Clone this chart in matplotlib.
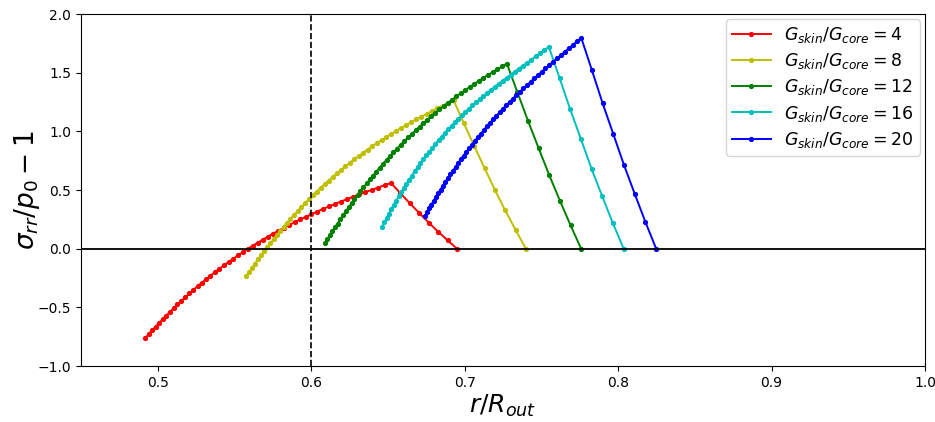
import matplotlib
matplotlib.use("Agg")
import matplotlib.pyplot as plt

# Radial stress in the core (dense mesh) and in the skin (coarse mesh)
# for several skin/core stiffness ratios.
ratios = [4, 8, 12, 16, 20]
colors = ["r", "y", "g", "c", "b"]

core_x_4 = [0.4920, 0.4942, 0.4964, 0.4986, 0.5009, 0.5032, 0.5056, 0.5080, 0.5104, 0.5129,
            0.5155, 0.5180, 0.5207, 0.5233, 0.5260, 0.5288, 0.5316, 0.5344, 0.5373, 0.5402,
            0.5432, 0.5462, 0.5493, 0.5524, 0.5555, 0.5587, 0.5619, 0.5652, 0.5685, 0.5718,
            0.5752, 0.5786, 0.5821, 0.5856, 0.5892, 0.5928, 0.5964, 0.6001, 0.6039, 0.6076,
            0.6115, 0.6153, 0.6192, 0.6232, 0.6272, 0.6312, 0.6353, 0.6394, 0.6436, 0.6478,
            0.6520]
core_y_4 = [-0.7600, -0.7283, -0.6966, -0.6649, -0.6332, -0.6015, -0.5699, -0.5384, -0.5068, -0.4753,
            -0.4437, -0.4129, -0.3820, -0.3512, -0.3203, -0.2895, -0.2599, -0.2303, -0.2006, -0.1710,
            -0.1414, -0.1134, -0.0855, -0.0575, -0.0295, -0.0015, 0.0246, 0.0506, 0.0767, 0.1027,
            0.1288, 0.1528, 0.1769, 0.2009, 0.2250, 0.2490, 0.2711, 0.2932, 0.3153, 0.3374,
            0.3595, 0.3800, 0.4006, 0.4211, 0.4417, 0.4622, 0.4818, 0.5013, 0.5209, 0.5404,
            0.5600]
skin_x_4 = [0.6520, 0.6581, 0.6643, 0.6704, 0.6766, 0.6827, 0.6889, 0.6950]
skin_y_4 = [0.5600, 0.4733, 0.3866, 0.3042, 0.2218, 0.1450, 0.0711, 0.0000]

core_x_8 = [0.5578, 0.5596, 0.5615, 0.5634, 0.5653, 0.5673, 0.5692, 0.5713, 0.5734, 0.5755,
            0.5776, 0.5798, 0.5820, 0.5842, 0.5865, 0.5889, 0.5912, 0.5936, 0.5960, 0.5985,
            0.6010, 0.6035, 0.6061, 0.6087, 0.6114, 0.6141, 0.6168, 0.6195, 0.6223, 0.6251,
            0.6280, 0.6309, 0.6338, 0.6368, 0.6398, 0.6429, 0.6459, 0.6490, 0.6522, 0.6554,
            0.6586, 0.6619, 0.6652, 0.6685, 0.6718, 0.6753, 0.6787, 0.6822, 0.6857, 0.6892,
            0.6928]
core_y_8 = [-0.2310, -0.1962, -0.1615, -0.1267, -0.0920, -0.0572, -0.0224, 0.0125, 0.0473, 0.0822,
            0.1170, 0.1513, 0.1855, 0.2198, 0.2540, 0.2883, 0.3215, 0.3547, 0.3879, 0.4211,
            0.4543, 0.4859, 0.5176, 0.5492, 0.5809, 0.6125, 0.6423, 0.6721, 0.7018, 0.7316,
            0.7614, 0.7892, 0.8170, 0.8447, 0.8725, 0.9003, 0.9261, 0.9519, 0.9777, 1.0035,
            1.0293, 1.0534, 1.0775, 1.1017, 1.1258, 1.1499, 1.1729, 1.1959, 1.2190, 1.2420,
            1.2650]
skin_x_8 = [0.6928, 0.6995, 0.7063, 0.7130, 0.7197, 0.7264, 0.7332, 0.7399]
skin_y_8 = [1.2650, 1.0692, 0.8734, 0.6871, 0.5009, 0.3275, 0.1605, 0.0000]

core_x_12 = [0.6089, 0.6105, 0.6121, 0.6138, 0.6155, 0.6172, 0.6190, 0.6207, 0.6226, 0.6244,
             0.6263, 0.6282, 0.6302, 0.6321, 0.6341, 0.6362, 0.6383, 0.6404, 0.6425, 0.6447,
             0.6469, 0.6491, 0.6513, 0.6536, 0.6560, 0.6583, 0.6607, 0.6631, 0.6656, 0.6681,
             0.6706, 0.6731, 0.6757, 0.6783, 0.6809, 0.6836, 0.6863, 0.6891, 0.6918, 0.6946,
             0.6975, 0.7003, 0.7032, 0.7061, 0.7091, 0.7121, 0.7151, 0.7182, 0.7212, 0.7244,
             0.7275]
core_y_12 = [0.0450, 0.0789, 0.1128, 0.1467, 0.1806, 0.2145, 0.2488, 0.2831, 0.3174, 0.3517,
             0.3860, 0.4201, 0.4543, 0.4884, 0.5226, 0.5567, 0.5902, 0.6236, 0.6571, 0.6905,
             0.7240, 0.7564, 0.7887, 0.8211, 0.8534, 0.8858, 0.9167, 0.9476, 0.9786, 1.0095,
             1.0404, 1.0697, 1.0990, 1.1282, 1.1575, 1.1868, 1.2143, 1.2419, 1.2694, 1.2970,
             1.3245, 1.3505, 1.3765, 1.4024, 1.4284, 1.4544, 1.4791, 1.5038, 1.5286, 1.5533,
             1.5780]
skin_x_12 = [0.7275, 0.7344, 0.7413, 0.7482, 0.7552, 0.7621, 0.7690, 0.7759]
skin_y_12 = [1.5780, 1.3337, 1.0895, 0.8572, 0.6249, 0.4085, 0.2002, 0.0000]

core_x_16 = [0.6462, 0.6477, 0.6492, 0.6507, 0.6522, 0.6538, 0.6554, 0.6571, 0.6587, 0.6604,
             0.6621, 0.6639, 0.6657, 0.6675, 0.6693, 0.6712, 0.6731, 0.6750, 0.6770, 0.6790,
             0.6810, 0.6830, 0.6851, 0.6872, 0.6893, 0.6915, 0.6937, 0.6959, 0.6981, 0.7004,
             0.7027, 0.7051, 0.7074, 0.7098, 0.7122, 0.7147, 0.7172, 0.7197, 0.7222, 0.7248,
             0.7274, 0.7300, 0.7326, 0.7353, 0.7380, 0.7408, 0.7435, 0.7463, 0.7492, 0.7520,
             0.7549]
core_y_16 = [0.1880, 0.2248, 0.2617, 0.2985, 0.3354, 0.3722, 0.4084, 0.4447, 0.4809, 0.5172,
             0.5534, 0.5883, 0.6233, 0.6582, 0.6932, 0.7281, 0.7613, 0.7944, 0.8276, 0.8607,
             0.8939, 0.9250, 0.9560, 0.9871, 1.0181, 1.0492, 1.0781, 1.1070, 1.1360, 1.1649,
             1.1938, 1.2208, 1.2478, 1.2748, 1.3018, 1.3288, 1.3545, 1.3803, 1.4060, 1.4318,
             1.4575, 1.4831, 1.5086, 1.5342, 1.5597, 1.5853, 1.6122, 1.6391, 1.6661, 1.6930,
             1.7200]
skin_x_16 = [0.7549, 0.7619, 0.7688, 0.7758, 0.7827, 0.7897, 0.7966, 0.8036]
skin_y_16 = [1.7200, 1.4537, 1.1875, 0.9343, 0.6811, 0.4453, 0.2183, 0.0000]

core_x_20 = [0.6741, 0.6755, 0.6769, 0.6783, 0.6798, 0.6812, 0.6827, 0.6843, 0.6858, 0.6874,
             0.6890, 0.6907, 0.6924, 0.6941, 0.6958, 0.6975, 0.6993, 0.7011, 0.7030, 0.7048,
             0.7067, 0.7086, 0.7106, 0.7125, 0.7145, 0.7166, 0.7186, 0.7207, 0.7228, 0.7249,
             0.7271, 0.7293, 0.7315, 0.7337, 0.7360, 0.7383, 0.7406, 0.7430, 0.7453, 0.7478,
             0.7502, 0.7526, 0.7551, 0.7576, 0.7602, 0.7628, 0.7653, 0.7680, 0.7706, 0.7733,
             0.7760]
core_y_20 = [0.2790, 0.3111, 0.3432, 0.3752, 0.4073, 0.4394, 0.4717, 0.5040, 0.5364, 0.5687,
             0.6010, 0.6331, 0.6652, 0.6974, 0.7295, 0.7616, 0.7931, 0.8246, 0.8562, 0.8877,
             0.9192, 0.9499, 0.9806, 1.0112, 1.0419, 1.0726, 1.1023, 1.1321, 1.1618, 1.1916,
             1.2213, 1.2502, 1.2791, 1.3079, 1.3368, 1.3657, 1.3941, 1.4224, 1.4508, 1.4791,
             1.5075, 1.5359, 1.5644, 1.5928, 1.6213, 1.6497, 1.6792, 1.7086, 1.7381, 1.7675,
             1.7970]
skin_x_20 = [0.7760, 0.7830, 0.7899, 0.7969, 0.8039, 0.8109, 0.8178, 0.8248]
skin_y_20 = [1.7970, 1.5188, 1.2406, 0.9761, 0.7116, 0.4652, 0.2280, 0.0000]

core_x = [core_x_4, core_x_8, core_x_12, core_x_16, core_x_20]
core_y = [core_y_4, core_y_8, core_y_12, core_y_16, core_y_20]
skin_x = [skin_x_4, skin_x_8, skin_x_12, skin_x_16, skin_x_20]
skin_y = [skin_y_4, skin_y_8, skin_y_12, skin_y_16, skin_y_20]

interface_radius = 0.6
x_ticks = [0.5, 0.6, 0.7, 0.8, 0.9, 1.0]
y_ticks = [-1.0, -0.5, 0.0, 0.5, 1.0, 1.5, 2.0]

fig = plt.figure(figsize=(9.35, 4.22), dpi=100)
ax = fig.add_axes([0.0866, 0.1327, 0.9027, 0.8341])

for ratio, col, cx, cy, sx, sy in zip(ratios, colors, core_x, core_y, skin_x, skin_y):
    ax.plot(cx + sx[1:], cy + sy[1:], color=col, marker=".", markersize=5.5,
            linewidth=1.4, label=r"$G_{skin}/G_{core} = %d$" % ratio)

ax.axhline(0.0, color="k", linewidth=1.3)
ax.axvline(interface_radius, color="k", linestyle="--", linewidth=1.2)

ax.set_xlim(0.45, 1.0)
ax.set_ylim(-1.0, 2.0)
ax.set_xticks(x_ticks)
ax.set_yticks(y_ticks)
ax.tick_params(labelsize=10)
ax.set_xlabel(r"$r/R_{out}$", fontsize=18, labelpad=2)
ax.set_ylabel(r"$\sigma_{rr}/p_0 - 1$", fontsize=19, labelpad=-3)
ax.legend(loc="upper right", fontsize=12.5, borderaxespad=0.3,
          labelspacing=0.35, borderpad=0.35, handlelength=2.2)

fig.savefig("out.png", dpi=100)
